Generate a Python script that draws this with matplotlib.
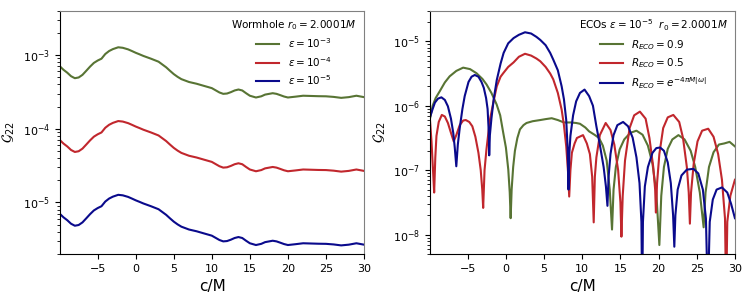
import matplotlib
matplotlib.use("Agg")
import matplotlib.pyplot as plt

# ---- left panel: wormhole, r0 = 2.0001M ----
wh_c = [-9.9, -9.5, -9, -8.5, -8, -7.5, -7, -6.5, -6, -5.5, -5, -4.5, -4, -3.5, -3,
        -2.3, -1.7, -1, -0.5, 0, 0.5, 1, 2, 3, 4, 4.5, 5, 5.5, 6, 7, 8, 9, 10, 11,
        11.5, 12, 12.5, 13, 13.5, 14, 14.5, 15, 15.8, 16.5, 17, 18, 18.5, 19, 19.5,
        20, 21, 22, 23, 24, 25, 26, 27, 28, 29, 30]
wh_eps3 = [6.9e-4, 6.3e-4, 5.75e-4, 5.15e-4, 4.84e-4, 4.95e-4, 5.37e-4, 6.1e-4,
           6.95e-4, 7.8e-4, 8.4e-4, 8.9e-4, 1.03e-3, 1.13e-3, 1.2e-3, 1.27e-3,
           1.25e-3, 1.19e-3, 1.13e-3, 1.07e-3, 1.02e-3, 9.7e-4, 8.9e-4, 8.1e-4,
           6.8e-4, 6.1e-4, 5.5e-4, 5.05e-4, 4.7e-4, 4.3e-4, 4.07e-4, 3.8e-4, 3.55e-4,
           3.1e-4, 2.97e-4, 3.0e-4, 3.13e-4, 3.3e-4, 3.4e-4, 3.3e-4, 3.03e-4, 2.8e-4,
           2.65e-4, 2.75e-4, 2.9e-4, 3.03e-4, 2.97e-4, 2.85e-4, 2.73e-4, 2.65e-4,
           2.72e-4, 2.8e-4, 2.78e-4, 2.76e-4, 2.75e-4, 2.7e-4, 2.62e-4, 2.68e-4,
           2.8e-4, 2.68e-4]
wh_eps4 = [6.9e-5, 6.3e-5, 5.75e-5, 5.15e-5, 4.84e-5, 4.95e-5, 5.37e-5, 6.1e-5,
           6.95e-5, 7.8e-5, 8.4e-5, 8.9e-5, 1.03e-4, 1.13e-4, 1.2e-4, 1.27e-4,
           1.25e-4, 1.19e-4, 1.13e-4, 1.07e-4, 1.02e-4, 9.7e-5, 8.9e-5, 8.1e-5,
           6.8e-5, 6.1e-5, 5.5e-5, 5.05e-5, 4.7e-5, 4.3e-5, 4.07e-5, 3.8e-5, 3.55e-5,
           3.1e-5, 2.97e-5, 3.0e-5, 3.13e-5, 3.3e-5, 3.4e-5, 3.3e-5, 3.03e-5, 2.8e-5,
           2.65e-5, 2.75e-5, 2.9e-5, 3.03e-5, 2.97e-5, 2.85e-5, 2.73e-5, 2.65e-5,
           2.72e-5, 2.8e-5, 2.78e-5, 2.76e-5, 2.75e-5, 2.7e-5, 2.62e-5, 2.68e-5,
           2.8e-5, 2.68e-5]
wh_eps5 = [6.9e-6, 6.3e-6, 5.75e-6, 5.15e-6, 4.84e-6, 4.95e-6, 5.37e-6, 6.1e-6,
           6.95e-6, 7.8e-6, 8.4e-6, 8.9e-6, 1.03e-5, 1.13e-5, 1.2e-5, 1.27e-5,
           1.25e-5, 1.19e-5, 1.13e-5, 1.07e-5, 1.02e-5, 9.7e-6, 8.9e-6, 8.1e-6,
           6.8e-6, 6.1e-6, 5.5e-6, 5.05e-6, 4.7e-6, 4.3e-6, 4.07e-6, 3.8e-6, 3.55e-6,
           3.1e-6, 2.97e-6, 3.0e-6, 3.13e-6, 3.3e-6, 3.4e-6, 3.3e-6, 3.03e-6, 2.8e-6,
           2.65e-6, 2.75e-6, 2.9e-6, 3.03e-6, 2.97e-6, 2.85e-6, 2.73e-6, 2.65e-6,
           2.72e-6, 2.8e-6, 2.78e-6, 2.76e-6, 2.75e-6, 2.7e-6, 2.62e-6, 2.68e-6,
           2.8e-6, 2.68e-6]
wh_labels = [r"$\varepsilon = 10^{-3}$", r"$\varepsilon = 10^{-4}$", r"$\varepsilon = 10^{-5}$"]

# ---- right panel: ECOs, eps = 1e-5 ----
r09_c = [-9.95, -9.6, -9.2, -8.68, -8.0, -7.37, -6.5, -5.6, -4.7, -3.86, -3.07, -2.54,
         -1.9, -1.22, -0.75, -0.35, 0.0, 0.31, 0.5, 0.62, 0.75, 0.95, 1.18, 1.5, 1.84,
         2.3, 2.7, 3.5, 4.5, 5.2, 6.0, 6.8, 7.6, 8.5, 9.2, 9.7, 10.4, 10.9, 11.6, 12.2,
         12.7, 13.2, 13.6, 13.9, 14.1, 14.4, 14.9, 15.5, 16.3, 17.1, 17.9, 18.6, 19.2,
         19.7, 20.1, 20.35, 20.7, 21.2, 21.8, 22.6, 23.4, 24.2, 24.8, 25.4, 25.9, 26.15,
         26.6, 27.2, 27.9, 28.6, 29.3, 30.0]
r09_g = [6.3e-7, 1.0e-6, 1.32e-6, 1.67e-6, 2.3e-6, 2.86e-6, 3.47e-6, 3.9e-6, 3.7e-6,
         3.2e-6, 2.6e-6, 2.14e-6, 1.58e-6, 1.05e-6, 7.1e-7, 3.8e-7, 2.24e-7, 1.02e-7,
         4.5e-8, 1.8e-8, 5.0e-8, 1.12e-7, 2.0e-7, 3.16e-7, 4.3e-7, 5.0e-7, 5.4e-7,
         5.75e-7, 6.0e-7, 6.2e-7, 6.4e-7, 6.0e-7, 5.5e-7, 5.5e-7, 5.4e-7, 5.25e-7,
         4.6e-7, 4.0e-7, 3.55e-7, 3.16e-7, 2.4e-7, 1.41e-7, 5.0e-8, 1.2e-8, 5.0e-8,
         1.12e-7, 2.1e-7, 3.0e-7, 3.8e-7, 4.1e-7, 3.55e-7, 2.4e-7, 1.26e-7, 4.5e-8,
         6.9e-9, 4.0e-8, 1.12e-7, 2.14e-7, 3.0e-7, 3.5e-7, 3.0e-7, 2.0e-7, 1.12e-7,
         4.5e-8, 1.3e-8, 4.5e-8, 1.12e-7, 1.9e-7, 2.5e-7, 2.6e-7, 2.75e-7, 2.34e-7]

r05_c = [-9.95, -9.75, -9.55, -9.4, -9.25, -9.1, -8.8, -8.4, -8.0, -7.6, -7.2, -6.84,
         -6.5, -6.05, -5.6, -5.26, -4.8, -4.4, -4.0, -3.6, -3.3, -3.1, -2.98, -2.8,
         -2.55, -2.1, -1.6, -1.2, -0.7, -0.35, 0.3, 1.0, 1.7, 2.5, 3.3, 4.0, 4.5, 5.2,
         5.8, 6.2, 6.8, 7.3, 7.6, 7.9, 8.15, 8.29, 8.45, 8.64, 9.0, 9.3, 10.1, 10.6,
         11.0, 11.3, 11.5, 11.65, 11.85, 12.3, 13.07, 13.7, 14.2, 14.7, 15.0, 15.13,
         15.3, 15.6, 16.2, 16.8, 17.55, 18.3, 18.8, 19.3, 19.55, 19.65, 19.8, 20.1,
         20.6, 21.2, 21.93, 22.7, 23.2, 23.7, 23.95, 24.1, 24.25, 24.6, 25.1, 25.7,
         26.5, 27.2, 27.8, 28.3, 28.7, 28.85, 29.0, 29.4, 30.0]
r05_g = [6.0e-7, 2.8e-7, 1.0e-7, 4.5e-8, 1.58e-7, 3.4e-7, 5.6e-7, 7.2e-7, 6.8e-7,
         5.4e-7, 3.8e-7, 2.8e-7, 3.5e-7, 5.0e-7, 5.9e-7, 6.0e-7, 5.6e-7, 4.8e-7,
         3.3e-7, 1.86e-7, 1.0e-7, 5.0e-8, 2.6e-8, 1.0e-7, 2.1e-7, 6.0e-7, 1.2e-6,
         2.0e-6, 2.82e-6, 3.2e-6, 4.0e-6, 4.7e-6, 5.75e-6, 6.4e-6, 6.0e-6, 5.4e-6,
         4.9e-6, 4.0e-6, 3.16e-6, 2.57e-6, 1.58e-6, 8.7e-7, 5.0e-7, 2.34e-7, 8.9e-8,
         3.9e-8, 1.0e-7, 1.86e-7, 2.6e-7, 3.16e-7, 3.5e-7, 2.6e-7, 1.78e-7, 7.9e-8,
         1.55e-8, 7.9e-8, 1.58e-7, 3.5e-7, 5.4e-7, 4.2e-7, 2.5e-7, 1.0e-7, 3.16e-8,
         9.3e-9, 4.0e-8, 1.41e-7, 4.5e-7, 7.1e-7, 8.1e-7, 6.3e-7, 3.16e-7, 1.12e-7,
         5.0e-8, 2.2e-8, 6.3e-8, 1.78e-7, 4.5e-7, 6.6e-7, 7.2e-7, 5.6e-7, 3.16e-7,
         1.12e-7, 4.5e-8, 1.48e-8, 4.5e-8, 1.26e-7, 2.8e-7, 4.1e-7, 4.4e-7, 3.3e-7,
         1.78e-7, 7.1e-8, 1.78e-8, 1e-9, 1.58e-8, 4.0e-8, 7.1e-8]

rexp_c = [-9.95, -9.6, -9.3, -8.9, -8.45, -8.0, -7.6, -7.2, -6.9, -6.7, -6.5, -6.3,
          -6.05, -5.7, -5.4, -4.9, -4.5, -4.08, -3.6, -3.2, -2.9, -2.6, -2.4, -2.25,
          -2.19, -2.1, -1.9, -1.6, -1.2, -0.7, -0.3, 0.3, 1.0, 1.7, 2.5, 3.3, 4.0, 4.5,
          5.2, 5.8, 6.2, 6.8, 7.3, 7.6, 7.9, 8.08, 8.2, 8.3, 8.45, 8.8, 9.2, 9.7, 10.3,
          10.9, 11.4, 11.85, 12.3, 12.8, 13.1, 13.3, 13.45, 13.7, 14.1, 14.6, 15.35,
          16.0, 16.6, 17.1, 17.5, 17.75, 17.85, 17.95, 18.2, 18.6, 19.2, 19.7, 20.2,
          20.7, 21.2, 21.6, 21.9, 22.06, 22.2, 22.5, 23.0, 23.7, 24.56, 25.2, 25.8,
          26.2, 26.45, 26.7, 27.1, 27.6, 28.3, 29.0, 29.5, 30.0]
rexp_g = [6.6e-7, 8.9e-7, 1.12e-6, 1.29e-6, 1.35e-6, 1.23e-6, 9.8e-7, 6.3e-7, 3.8e-7,
          2.24e-7, 1.15e-7, 2.5e-7, 4.5e-7, 8.9e-7, 1.41e-6, 2.34e-6, 2.82e-6, 3.0e-6,
          2.82e-6, 2.34e-6, 1.9e-6, 1.32e-6, 8.9e-7, 4.0e-7, 1.7e-7, 3.5e-7, 6.3e-7,
          1.26e-6, 2.5e-6, 4.5e-6, 6.6e-6, 9.3e-6, 1.12e-5, 1.26e-5, 1.38e-5, 1.32e-5,
          1.17e-5, 1.05e-5, 8.7e-6, 6.6e-6, 5.2e-6, 3.55e-6, 2.0e-6, 1.26e-6, 6.0e-7,
          2.24e-7, 5.0e-8, 1.78e-7, 3.4e-7, 7.1e-7, 1.17e-6, 1.58e-6, 1.78e-6, 1.41e-6,
          1.0e-6, 4.8e-7, 2.5e-7, 1.12e-7, 5.6e-8, 2.8e-8, 7.9e-8, 1.78e-7, 3.5e-7,
          5.0e-7, 5.6e-7, 4.8e-7, 3.2e-7, 1.58e-7, 6.3e-8, 1.58e-8, 1e-9, 1.58e-8,
          5.6e-8, 1.12e-7, 1.86e-7, 2.2e-7, 2.25e-7, 2.0e-7, 1.32e-7, 6.3e-8, 2.0e-8,
          6.5e-9, 2.0e-8, 5.0e-8, 8.3e-8, 1.02e-7, 1.05e-7, 8.9e-8, 5.0e-8, 1.78e-8,
          1e-9, 1.58e-8, 3.5e-8, 5.0e-8, 5.4e-8, 4.5e-8, 3.0e-8, 1.8e-8]
eco_labels = [r"$R_{ECO} = 0.9$", r"$R_{ECO} = 0.5$", r"$R_{ECO} = e^{-4\pi M|\omega|}$"]

colors = ["#587434", "#c1272d", "#0a0a8c"]


def style_axes(ax):
    ax.set_yscale("log")
    ax.set_xlim(-9.95, 30)
    ax.set_xticks([-5, 0, 5, 10, 15, 20, 25, 30])
    ax.set_xlabel("c/M", fontsize=11)
    ax.set_ylabel(r"$\mathcal{G}_{22}$", fontsize=10)
    ax.tick_params(labelsize=8)
    for s in ("top", "right"):
        ax.spines[s].set_color("#808080")


fig = plt.figure(figsize=(7.53, 3.01), dpi=100)
ax1 = fig.add_axes([0.0797, 0.156, 0.4037, 0.809])
ax2 = fig.add_axes([0.571, 0.156, 0.405, 0.809])

for ys, lab, col in zip([wh_eps3, wh_eps4, wh_eps5], wh_labels, colors):
    ax1.plot(wh_c, ys, color=col, lw=1.5, label=lab)
style_axes(ax1)
ax1.set_ylim(2.0e-6, 4.0e-3)
ax1.legend(title=r"Wormhole $r_0 = 2.0001M$", frameon=False, fontsize=7.5,
           title_fontsize=7.5, loc="upper right", borderaxespad=0.3,
           labelspacing=0.45, handlelength=2.2)

for xs, ys, lab, col in zip([r09_c, r05_c, rexp_c], [r09_g, r05_g, rexp_g],
                            eco_labels, colors):
    ax2.plot(xs, ys, color=col, lw=1.5, label=lab)
style_axes(ax2)
ax2.set_ylim(5.0e-9, 3.0e-5)
ax2.legend(title=r"ECOs $\varepsilon = 10^{-5}$  $r_0 = 2.0001M$", frameon=False,
           fontsize=7.5, title_fontsize=7.5, loc="upper right", borderaxespad=0.3,
           labelspacing=0.45, handlelength=2.2)

fig.savefig("out.png", dpi=100)
